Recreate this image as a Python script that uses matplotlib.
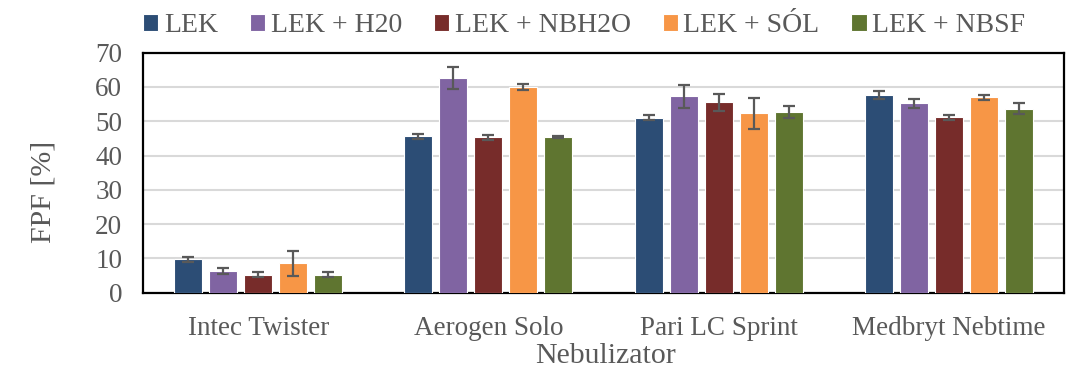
import matplotlib
matplotlib.use("Agg")
import matplotlib.pyplot as plt
import numpy as np

categories = ["Intec Twister", "Aerogen Solo", "Pari LC Sprint", "Medbryt Nebtime"]
series = ["LEK", "LEK + H20", "LEK + NBH2O", "LEK + SÓL", "LEK + NBSF"]
lek = [9.7, 45.6, 51.1, 57.6]
lek_h20 = [6.4, 62.5, 57.3, 55.2]
lek_nbh2o = [5.3, 45.3, 55.6, 51.2]
lek_sol = [8.6, 59.9, 52.3, 57.0]
lek_nbsf = [5.3, 45.3, 52.8, 53.7]
err_lek = [0.8, 0.8, 0.6, 1.2]
err_h20 = [0.8, 3.2, 3.3, 1.3]
err_nbh2o = [0.7, 0.7, 2.5, 0.7]
err_sol = [3.7, 0.9, 4.5, 0.7]
err_nbsf = [0.8, 0.3, 1.75, 1.7]
colors = ["#2c4d75", "#8064a2", "#772c2a", "#f79646", "#5f7530"]

values = [lek, lek_h20, lek_nbh2o, lek_sol, lek_nbsf]
errors = [err_lek, err_h20, err_nbh2o, err_sol, err_nbsf]

plt.rcParams['font.family'] = ['Liberation Serif', 'DejaVu Serif']
gray = "#595959"

fig = plt.figure(figsize=(10.68, 3.77), dpi=100)
ax = fig.add_axes([0.1339, 0.2236, 0.8624, 0.6366])

x = np.arange(len(categories))
width = 0.122
step = 0.152
for i, (name, vals, errs, c) in enumerate(zip(series, values, errors, colors)):
    pos = x + (i - 2) * step
    ax.bar(pos, vals, width, color=c, edgecolor="white", linewidth=0.8, label=name, zorder=3)
    ax.errorbar(pos, vals, yerr=errs, fmt="none", ecolor=gray, elinewidth=1.6,
                capsize=4.3, capthick=1.6, zorder=4)

ax.set_xlim(-0.5, len(categories) - 0.5)
ax.set_ylim(0, 70)
ax.set_yticks(range(0, 71, 10))
ax.yaxis.grid(True, color="#d9d9d9", linewidth=1.5, zorder=0)
ax.set_axisbelow(True)
for s in ax.spines.values():
    s.set_color("black")
    s.set_linewidth(1.6)
ax.set_xticks(x)
ax.set_xticklabels(categories)
ax.tick_params(axis="both", length=0, colors=gray, labelsize=19.5)
ax.tick_params(axis="y", pad=15)
ax.tick_params(axis="x", pad=17)

fig.text(44 / 1068, 0.492, "FPF [%]", rotation=90, ha="center", va="center",
         fontsize=21.5, color=gray)
fig.text(605 / 1068, 1 - 363 / 377, "Nebulizator", ha="center", va="baseline",
         fontsize=21.5, color=gray)

leg = fig.legend(loc="center", bbox_to_anchor=(0.547, 0.932), ncol=5, frameon=False,
                 fontsize=20, handlelength=0.55, handleheight=0.55, handletextpad=0.2,
                 columnspacing=1.15, labelcolor=gray)

fig.savefig("out.png", dpi=100)
